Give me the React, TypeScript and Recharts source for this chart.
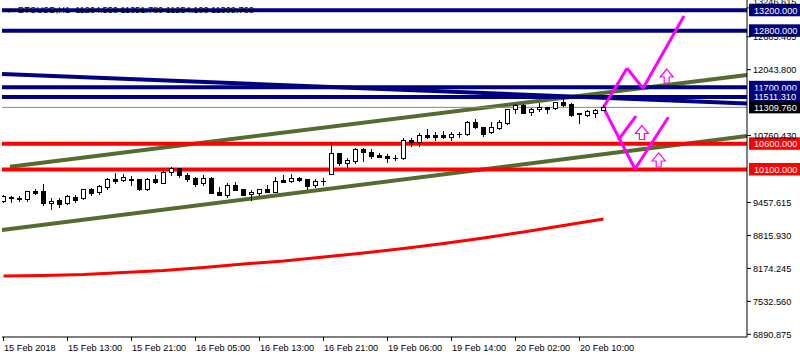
import React from "react";
import { ComposedChart, Bar, Line, XAxis, YAxis, ReferenceLine, ReferenceDot } from "recharts";

const FONT = "'Liberation Sans', Arial, sans-serif";
const NAVY = "#000080";
const OLIVE = "#556B2F";
const RED = "#FF0000";
const MAGENTA = "#FF00FF";

// BTCUSD H1 candles, oldest first
const openPrices = [
  9492, 9570, 9539, 9520, 9675, 9675, 9442, 9506, 9442, 9570,
  9545, 9714, 9662, 9765, 9921, 9895, 9921, 9915, 9714, 9909,
  9843, 10057, 10129, 9999, 9928, 9843, 9934, 9662, 9597, 9798,
  9714, 9617, 9636, 9714, 9668, 9901, 9882, 9934, 9909, 9792,
  9870, 10018, 10415, 10232, 10271, 10499, 10441, 10382, 10363, 10333,
  10318, 10680, 10629, 10777, 10777, 10777, 10733, 10787, 10785, 11025,
  10921, 10824, 10914, 11005, 11272, 11356, 11219, 11272, 11311, 11291,
  11408, 11375, 11194, 11167, 11206, 11264.55,
];
const highPrices = [
  9603, 9584, 9584, 9687, 9714, 9812, 9539, 9551, 9597, 9597,
  9726, 9745, 9804, 9928, 10026, 10012, 9973, 9921, 9934, 9987,
  10076, 10143, 10135, 10038, 9948, 9987, 9954, 9759, 9843, 9851,
  9720, 9701, 9726, 9792, 9948, 9987, 10012, 9960, 9915, 9909,
  9928, 10610, 10421, 10318, 10513, 10509, 10499, 10427, 10407, 10382,
  10707, 10719, 10805, 10894, 10836, 10849, 10836, 10836, 11044, 11077,
  10933, 11025, 11064, 11284, 11375, 11369, 11291, 11389, 11317, 11420,
  11517, 11385, 11200, 11258, 11284, 11351.78,
];
const lowPrices = [
  9473, 9473, 9492, 9492, 9617, 9409, 9325, 9376, 9428, 9461,
  9531, 9597, 9623, 9714, 9831, 9882, 9804, 9707, 9701, 9843,
  9831, 9987, 9960, 9870, 9779, 9804, 9648, 9597, 9570, 9707,
  9609, 9512, 9609, 9662, 9662, 9862, 9857, 9882, 9726, 9765,
  9798, 10012, 10188, 10154, 10232, 10271, 10318, 10349, 10240, 10279,
  10314, 10563, 10557, 10707, 10674, 10707, 10680, 10733, 10781, 10902,
  10752, 10820, 10882, 10992, 11206, 11194, 11167, 11245, 11206, 11272,
  11336, 11150, 11011, 11142, 11128, 11254.1,
];
const closePrices = [
  9584, 9539, 9520, 9675, 9636, 9453, 9492, 9428, 9584, 9506,
  9714, 9648, 9779, 9909, 9882, 9948, 9895, 9714, 9921, 9857,
  10057, 10123, 9987, 9921, 9823, 9934, 9648, 9597, 9798, 9707,
  9609, 9662, 9714, 9662, 9870, 9862, 9934, 9901, 9779, 9882,
  9876, 10415, 10226, 10285, 10493, 10435, 10357, 10349, 10318, 10329,
  10674, 10629, 10772, 10733, 10733, 10738, 10791, 10783, 11019, 10927,
  10791, 10921, 11025, 11272, 11350, 11206, 11272, 11311, 11284, 11408,
  11356, 11161, 11186, 11239, 11252, 11309.76,
];

// slow moving average (red curve), read every 5 bars
const maBars = [0, 5, 10, 15, 20, 25, 30, 35, 40, 45, 50, 55, 60, 65, 70, 75];
const maValues = [8026, 8036, 8055, 8094, 8133, 8192, 8260, 8318, 8396, 8474, 8562, 8659, 8766, 8883, 9009, 9136];

const xTicks = [0, 8, 16, 24, 32, 40, 48, 56, 64, 72];
const xTickLabels = [
  "15 Feb 2018", "15 Feb 13:00", "15 Feb 21:00", "16 Feb 05:00", "16 Feb 13:00",
  "16 Feb 21:00", "19 Feb 06:00", "19 Feb 14:00", "20 Feb 02:00", "20 Feb 10:00",
];
const yTicks = [6890.875, 7532.56, 8174.245, 8815.93, 9457.615, 10760.43, 12043.8, 12685.485, 13246.615];
const yTickLabels = ["6890.875", "7532.560", "8174.245", "8815.930", "9457.615", "10760.430", "12043.800", "12685.485", "13246.615"];

const navyLevels = [13200, 12800, 11700, 11511.31];
const navyLabels = ["13200.000", "12800.000", "11700.000", "11511.310"];
const redLevels = [10600, 10100];
const redLabels = ["10600.000", "10100.000"];
const bidPrice = 11309.76;

// trend lines: [bar, price] end points
const navyTrend = [[-0.1875, 11959], [92.9375, 11385]];
const oliveUpper = [[0.8, 10154], [92.9375, 11940]];
const oliveLower = [[-0.1875, 8922], [92.9375, 10752]];

// projected zigzags
const upPath = [[75, 11310], [77.94, 12070], [79.94, 11680], [85.06, 13090]];
const downPath = [[75, 11300], [78.94, 10110], [83.1, 11116]];
const downBranch = [[76.85, 10674], [79.06, 11141]];

const arrowBars = [82.9, 79.8, 81.9];
const arrowPrices = [11920, 10820, 10285];

const data = openPrices.map((o, i) => {
  const m = maBars.indexOf(i);
  return {
    i,
    open: o,
    high: highPrices[i],
    low: lowPrices[i],
    close: closePrices[i],
    range: [lowPrices[i], highPrices[i]],
    ma: m >= 0 ? maValues[m] : null,
  };
});

const Candle = (props: any) => {
  const { x, y, width, height, payload } = props;
  if (!payload || !height) return null;
  const { open, close, high, low } = payload;
  const k = height / (high - low);
  const py = (v: number) => y + (high - v) * k;
  const cx = Math.floor(x + width / 2);
  const top = Math.round(py(Math.max(open, close)));
  const bot = Math.round(py(Math.min(open, close)));
  const bull = close >= open;
  return (
    <g>
      <line x1={cx + 0.5} x2={cx + 0.5} y1={Math.round(py(high))} y2={Math.round(py(low)) + 1} stroke="#000" strokeWidth={1} />
      {bot - top < 1 ? (
        <line x1={cx - 2} x2={cx + 3} y1={top + 0.5} y2={top + 0.5} stroke="#000" strokeWidth={1} />
      ) : (
        <rect x={cx - 1.5} y={top + 0.5} width={4} height={bot - top} fill={bull ? "#fff" : "#000"} stroke="#000" strokeWidth={1} />
      )}
    </g>
  );
};

const BoxLabel = (props: any) => {
  const { viewBox, text, bg } = props;
  if (!viewBox) return null;
  const x = viewBox.x + viewBox.width + 2;
  const y = viewBox.y;
  return (
    <g>
      <rect x={x} y={y - 6.5} width={60} height={12.5} fill={bg} />
      <text x={x + 5} y={y + 3.4} fill="#fff" fontSize={9.2} fontFamily={FONT}>{text}</text>
    </g>
  );
};

const XTick = (p: any) => {
  const idx = xTicks.indexOf(p.payload.value);
  return (
    <text x={p.x + 0.5} y={p.y + 9.5} textAnchor="start" fontSize={9.2} fontFamily={FONT} fill="#000">
      {xTickLabels[idx]}
    </text>
  );
};

const YTick = (p: any) => {
  const v = p.payload.value;
  const idx = yTicks.indexOf(v);
  const dy = idx === yTicks.length - 1 ? -6 : 0;
  return (
    <text x={753} y={p.y + 3.4 + dy} textAnchor="start" fontSize={9.2} fontFamily={FONT} fill="#000">
      {yTickLabels[idx]}
    </text>
  );
};

const UpArrow = (p: any) => {
  const { cx, cy } = p;
  const pts = [
    [cx, cy - 7], [cx + 6.5, cy + 1], [cx + 2.5, cy + 1], [cx + 2.5, cy + 7],
    [cx - 2.5, cy + 7], [cx - 2.5, cy + 1], [cx - 6.5, cy + 1],
  ].map((q) => q.join(",")).join(" ");
  return <polygon points={pts} fill="#fff" stroke={MAGENTA} strokeWidth={1.2} />;
};

const seg = (a: number[], b: number[]) => [{ x: a[0], y: a[1] }, { x: b[0], y: b[1] }];

const pathSegments = (path: number[][]) =>
  path.slice(1).map((pt, k) => seg(path[k], pt));

export default function App() {
  const magentaSegs = [...pathSegments(upPath), ...pathSegments(downPath), ...pathSegments(downBranch)];
  return (
    <div style={{ position: "absolute", left: 0, top: 0, width: 800, height: 358, background: "#fff", fontFamily: FONT }}>
      <ComposedChart width={800} height={358} data={data} margin={{ top: 0, right: 0, left: 2, bottom: 0 }}>
        <YAxis
          orientation="right"
          width={53}
          type="number"
          domain={[6838.6, 13400]}
          allowDataOverflow
          ticks={yTicks}
          interval={0}
          tickSize={4}
          tickMargin={2}
          axisLine={{ stroke: "#000" }}
          tickLine={{ stroke: "#000" }}
          tick={YTick}
        />
        <YAxis yAxisId="left" orientation="left" width={0} domain={[6838.6, 13400]} allowDataOverflow tick={false} tickLine={false} axisLine={{ stroke: "#000" }} />
        <XAxis
          dataKey="i"
          type="number"
          domain={[-0.1875, 92.9375]}
          allowDataOverflow
          ticks={xTicks}
          interval={0}
          height={21}
          tickSize={4}
          tickMargin={0}
          axisLine={{ stroke: "#000" }}
          tickLine={{ stroke: "#000" }}
          tick={XTick}
        />

        <ReferenceLine segment={seg(oliveUpper[0], oliveUpper[1])} stroke={OLIVE} strokeWidth={4} ifOverflow="visible" zIndex={100} />
        <ReferenceLine segment={seg(oliveLower[0], oliveLower[1])} stroke={OLIVE} strokeWidth={4} ifOverflow="visible" zIndex={100} />
        <ReferenceLine segment={seg(navyTrend[0], navyTrend[1])} stroke={NAVY} strokeWidth={4} ifOverflow="visible" zIndex={100} />
        {navyLevels.map((v, k) => (
          <ReferenceLine key={"n" + k} y={v} stroke={NAVY} strokeWidth={4} zIndex={100}
            label={(p: any) => <BoxLabel {...p} text={navyLabels[k]} bg={NAVY} />} />
        ))}
        {redLevels.map((v, k) => (
          <ReferenceLine key={"r" + k} y={v} stroke={RED} strokeWidth={4} zIndex={100}
            label={(p: any) => <BoxLabel {...p} text={redLabels[k]} bg={RED} />} />
        ))}
        <ReferenceLine y={bidPrice} stroke="#778899" strokeWidth={1} zIndex={100}
          label={(p: any) => <BoxLabel {...p} text="11309.760" bg="#000" />} />

        <Line dataKey="ma" stroke={RED} strokeWidth={3} dot={false} connectNulls isAnimationActive={false} zIndex={150} />

        {magentaSegs.map((s, k) => (
          <ReferenceLine key={"m" + k} segment={s} stroke={MAGENTA} strokeWidth={3} ifOverflow="visible" zIndex={160} />
        ))}
        {arrowBars.map((x, k) => (
          <ReferenceDot key={"a" + k} x={x} y={arrowPrices[k]} r={6} ifOverflow="visible" shape={UpArrow} zIndex={170} />
        ))}

        <Bar dataKey="range" barSize={5} shape={Candle} isAnimationActive={false} zIndex={300} />
      </ComposedChart>
      <div style={{ position: "absolute", left: 6, top: 9, width: 0, height: 0, borderLeft: "3.5px solid transparent", borderRight: "3.5px solid transparent", borderTop: "4px solid #000" }} />
      <div style={{ position: "absolute", left: 18, top: 5, fontSize: 9.2, lineHeight: "11px", color: "#000", whiteSpace: "pre" }}>
        {"BTCUSD,H1  11264.550 11351.780 11254.100 11309.760"}
      </div>
    </div>
  );
}
